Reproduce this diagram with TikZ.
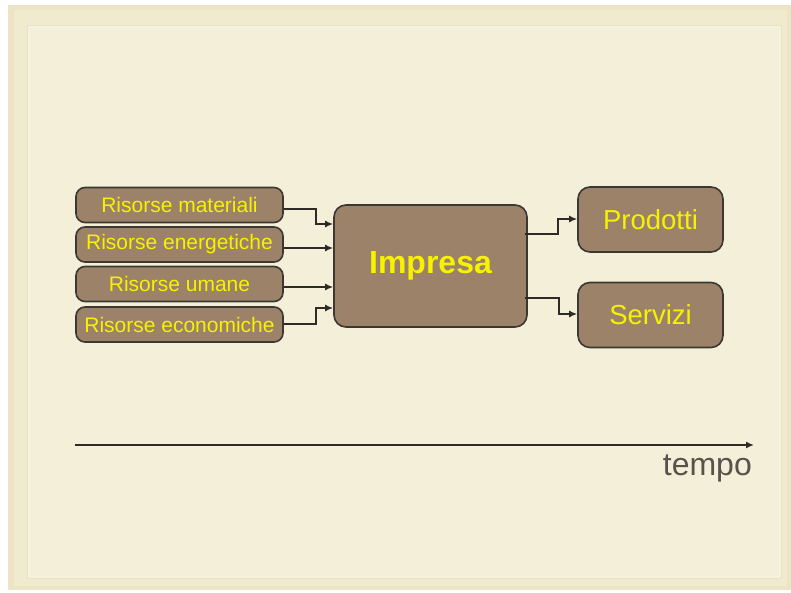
\documentclass[tikz,border=0pt]{standalone}
\usepackage{fontspec}
\setmainfont{Liberation Sans}
\usetikzlibrary{arrows.meta}
\definecolor{paper}{HTML}{F4EFD8}
\definecolor{paperedge}{HTML}{ECE4C4}
\definecolor{framecol}{HTML}{F6F2E0}
\definecolor{frameshadow}{HTML}{EAE2C2}
\definecolor{boxfill}{HTML}{9C8269}
\definecolor{boxline}{HTML}{3B3731}
\definecolor{label}{HTML}{F6F200}
\definecolor{wire}{HTML}{2E2B27}
\definecolor{timetext}{HTML}{56524C}
\tikzset{
  res/.style={draw=boxline, line width=1.6pt, fill=boxfill, rounded corners=9pt,
    minimum width=207pt, minimum height=35pt, inner sep=0pt, text=label,
    font=\fontsize{21pt}{24pt}\selectfont},
  core/.style={draw=boxline, line width=1.6pt, fill=boxfill, rounded corners=12pt,
    minimum width=193pt, minimum height=122pt, inner sep=0pt, text=label,
    font=\fontsize{32pt}{36pt}\selectfont\bfseries},
  outbox/.style={draw=boxline, line width=1.6pt, fill=boxfill, rounded corners=12pt,
    minimum width=145pt, minimum height=65pt, inner sep=0pt, text=label,
    font=\fontsize{27.5pt}{30pt}\selectfont},
  link/.style={draw=wire, line width=1.7pt, -{Latex[length=8pt,width=7pt]}},
}
\begin{document}
\begin{tikzpicture}[x=1pt,y=-1pt]
  % page with a white margin, a soft rim and a faint inset frame
  \useasboundingbox (0,0) rectangle (791,593);
  \fill[white] (0,0) rectangle (791,593);
  \fill[paperedge] (8,5) rectangle (791,590);
  \fill[paper!50!paperedge] (14,10) rectangle (787,586);
  \fill[paper] (30,28) rectangle (779,576);
  \draw[frameshadow, line width=0.8pt] (27.5,25.5) rectangle (781.5,578.5);
  \draw[framecol, line width=1.2pt] (29,27) rectangle (780,577);

  % inputs
  \node[res] (mat) at (179.5,205) {Risorse materiali};
  \node[res] (ene) at (179.5,244.5) {Risorse energetiche};
  \node[res] (uma) at (179.5,284) {Risorse umane};
  \node[res] (eco) at (179.5,324.5) {Risorse economiche};

  % firm
  \node[core] (imp) at (430.5,266) {Impresa};

  % outputs
  \node[outbox] (pro) at (650.5,219.5) {Prodotti};
  \node[outbox] (ser) at (650.5,315) {Servizi};

  % connectors
  \draw[link] (mat.east |- 0,209) -| (316,224) -- (imp.west |- 0,224);
  \draw[link] (ene.east |- 0,248) -- (imp.west |- 0,248);
  \draw[link] (uma.east |- 0,287) -- (imp.west |- 0,287);
  \draw[link] (eco.east |- 0,324) -| (316,308) -- (imp.west |- 0,308);
  \draw[link] ([xshift=-3pt]imp.east |- 0,234) -| (558,219) -- (pro.west |- 0,219);
  \draw[link] ([xshift=-3pt]imp.east |- 0,298) -| (559,314) -- (ser.west |- 0,314);

  % time axis
  \coordinate (t0) at (75,445);
  \coordinate (t1) at (754,445);
  \draw[link] (t0) -- (t1);
  \node[anchor=north east, inner sep=0pt, text=timetext,
    font=\fontsize{32pt}{36pt}\selectfont] (tempo) at (752,455) {tempo};
\end{tikzpicture}
\end{document}
